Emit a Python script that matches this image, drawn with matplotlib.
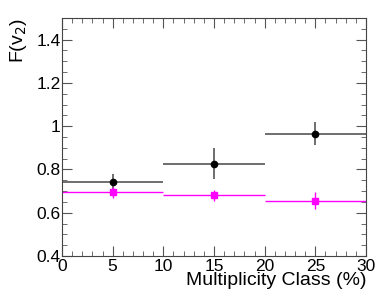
import matplotlib.pyplot as plt
from matplotlib.ticker import MultipleLocator

x = [5, 15, 25]
x_err = [5, 5, 5]
f_black = [0.741, 0.826, 0.966]
f_black_err = [0.036, 0.072, 0.052]
f_magenta = [0.694, 0.680, 0.655]
f_magenta_err = [0.027, 0.026, 0.039]

plt.rcParams['font.family'] = ['Liberation Sans', 'DejaVu Sans']

fig = plt.figure(figsize=(3.89, 3.0), dpi=100)
ax = fig.add_axes([62 / 389, 44 / 300, 304 / 389, 238 / 300])

ax.errorbar(x, f_black, xerr=x_err, yerr=f_black_err, fmt='o', color='black',
            ecolor='#555555', elinewidth=1.2, capsize=0, markersize=4.5)
ax.errorbar(x, f_magenta, xerr=x_err, yerr=f_magenta_err, fmt='s', color='#ff00ff',
            ecolor='#ff00ff', elinewidth=1.0, capsize=0, markersize=4.5)

ax.set_xlim(0, 30)
ax.set_ylim(0.4, 1.5)
ax.xaxis.set_major_locator(MultipleLocator(5))
ax.xaxis.set_minor_locator(MultipleLocator(1))
ax.yaxis.set_major_locator(MultipleLocator(0.2))
ax.yaxis.set_minor_locator(MultipleLocator(0.05))
ax.set_yticks([0.4, 0.6, 0.8, 1.0, 1.2, 1.4])
ax.set_yticklabels(['0.4', '0.6', '0.8', '1', '1.2', '1.4'])

ax.tick_params(which='both', direction='in', top=True, right=True, labelsize=12.5,
               color='#555555')
ax.tick_params(which='major', length=7)
ax.tick_params(which='minor', length=3.5)
ax.tick_params(axis='x', pad=2)
ax.tick_params(axis='y', pad=1)
for s in ax.spines.values():
    s.set_color('#444444')

ax.set_xlabel('Multiplicity Class (%)', fontsize=14, loc='right', labelpad=-1)
ax.set_ylabel(r'F(v$_2$)', fontsize=14, loc='top', labelpad=5)

fig.savefig('out.png', dpi=100)
